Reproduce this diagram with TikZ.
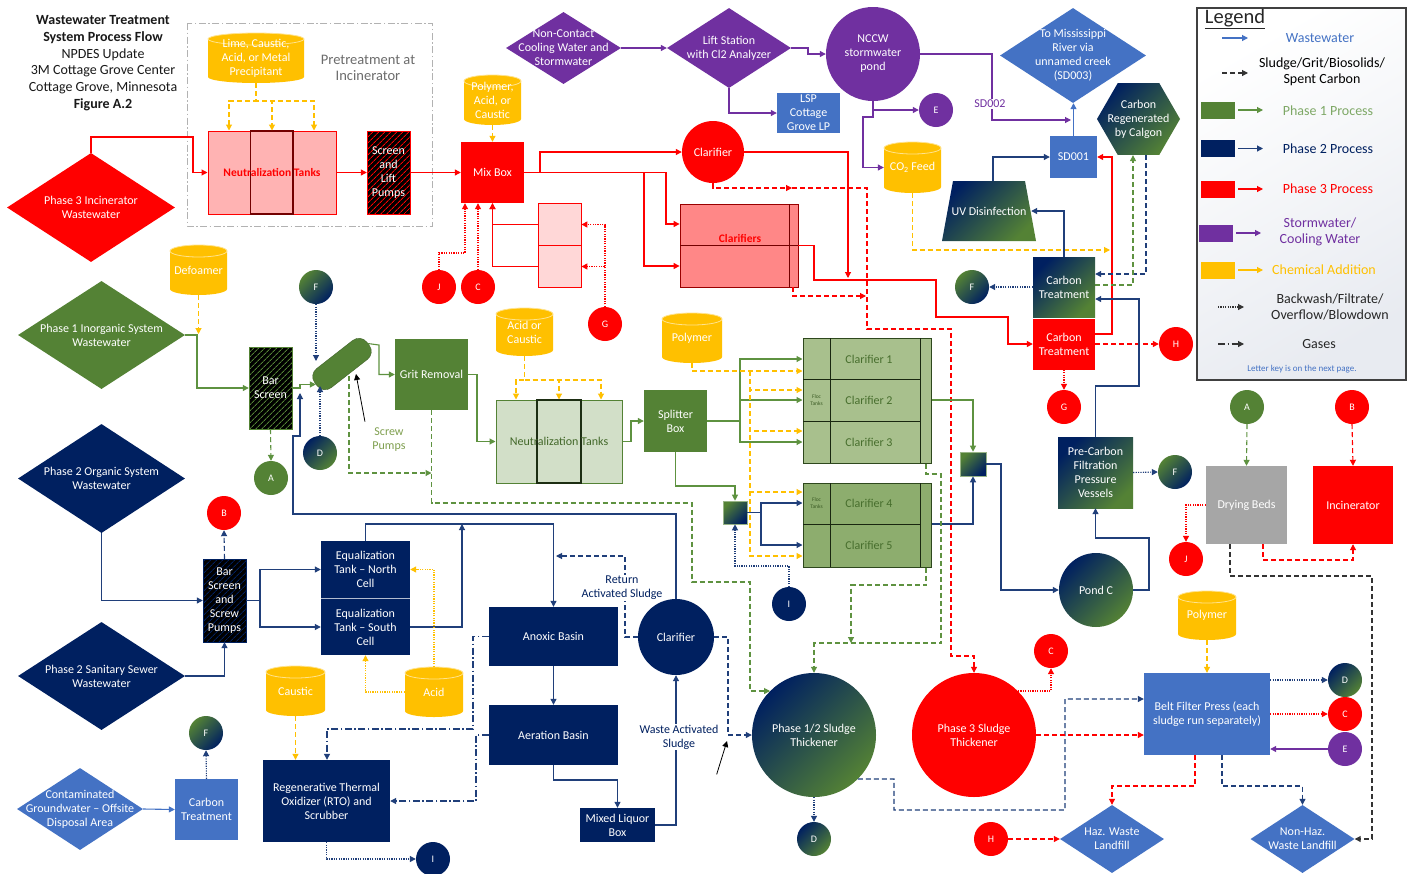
\documentclass[tikz,border=0pt]{standalone}
\usepackage{fontspec}
\setmainfont{Carlito}
\usetikzlibrary{arrows.meta,shapes.geometric,patterns.meta}
\definecolor{gr}{HTML}{548235}
\definecolor{grL}{HTML}{5E9240}
\definecolor{nv}{HTML}{002060}
\definecolor{nvL}{HTML}{203F7A}
\definecolor{rd}{HTML}{FF0000}
\definecolor{pu}{HTML}{7030A0}
\definecolor{yl}{HTML}{FFC000}
\definecolor{bl}{HTML}{4472C4}
\definecolor{gy}{HTML}{A6A6A6}
\definecolor{pkA}{HTML}{FFB3B3}
\definecolor{pkB}{HTML}{FF8787}
\definecolor{pkC}{HTML}{FFD7D7}
\definecolor{lgA}{HTML}{D2DFC8}
\definecolor{lgB}{HTML}{A8C08D}
\definecolor{lgC}{HTML}{8DAD6E}
\definecolor{olv}{HTML}{7F9F4F}
\newcommand\lblf{\fontsize{12}{14}\selectfont}
\newcommand\ltrf{\fontsize{10}{12}\selectfont}
\newcommand\legf{\fontsize{14}{16}\selectfont}
% cylinder: name, cx, cy, w, h, text
\newcommand\drum[6]{%
 \fill[yl] ({#2-#4/2},{#3-#5/2+6}) -- ({#2-#4/2},{#3+#5/2-6}) arc[start angle=180,end angle=0,x radius={#4/2},y radius=6] -- ({#2+#4/2},{#3-#5/2+6}) arc[start angle=0,end angle=-180,x radius={#4/2},y radius=6] -- cycle;
 \draw[white!55!yl, line width=0.8pt] ({#2},{#3-#5/2+6}) ellipse[x radius={#4/2}, y radius=6];
 \node[bx, minimum width=#4, minimum height=#5, txt={#6}] (#1) at (#2,#3) {};}
\begin{document}
\begin{tikzpicture}[x=1pt,y=-1pt, >={Triangle[length=6pt,width=6pt]},
 lbl/.style={font=\lblf, align=center, text=white, inner sep=0pt},
 txt/.style={label={[lbl]center:{#1}}},
 sz/.style 2 args={minimum width=#1, minimum height=#2},
 bx/.style={rectangle, inner sep=0pt},
 dia/.style={diamond, inner sep=0pt},
 ltr/.style={circle, inner sep=0pt, minimum size=34, font=\ltrf, text=white},
 gNG/.style={top color=nv, bottom color=gr, shading angle=45},
 gGN/.style={top color=gr, bottom color=nv, shading angle=45},
 hatch/.style={fill=black, postaction={pattern={Lines[angle=45,distance=4pt,line width=0.9pt]}, pattern color=#1}},
 ln/.style={line width=1.1pt},
 gline/.style={ln, draw=grL},
 nline/.style={ln, draw=nvL},
 rline/.style={ln, draw=rd},
 pline/.style={ln, draw=pu},
 yline/.style={ln, draw=yl},
 bline/.style={ln, draw=bl},
 kline/.style={ln, draw=black!80},
 dsh/.style={dash pattern=on 5pt off 3pt},
 dtt/.style={dash pattern=on 1.2pt off 1.2pt},
 ddt/.style={dash pattern=on 7pt off 2.5pt on 1.5pt off 2.5pt},
 legt/.style={font=\legf, align=center, inner sep=0pt}
]
\useasboundingbox (0,0) rectangle (1416,873);
\fill[white] (0,0) rectangle (1416,873);

% ---------- title
\node[align=center, font=\fontsize{14}{16.7}\selectfont, text=black!90, inner sep=0] (title) at (103,63) {\textbf{Wastewater Treatment}\\\textbf{System Process Flow}\\NPDES Update\\3M Cottage Grove Center\\Cottage Grove, Minnesota\\\textbf{Figure A.2}};

% ---------- pretreatment frame
\draw[gray!60, line width=0.9pt, ddt] (187,23) rectangle (432,226);
\node[align=center, font=\fontsize{14.5}{16}\selectfont, text=gray!85!black] (pretxt) at (368,68) {Pretreatment at\\Incinerator};

% ---------- phase 3 top
\drum{lime}{256}{58}{96}{50}{Lime, Caustic,\\Acid, or Metal\\Precipitant}
\node[bx, sz={128}{83}, fill=pkA, draw=rd, line width=1pt] (n3) at (272,172.5) {};
\draw[line width=1.3pt, draw=rd!45!black] (250.5,131) rectangle (293,214);
\node[font=\fontsize{11.5}{13}\selectfont\bfseries, text=rd] (n3t) at (n3) {Neutralization Tanks};
\node[bx, sz={43}{83}, hatch=rd, draw=rd, txt={Screen\\and\\Lift\\Pumps}] (scr3) at (388.5,172.5) {};
\node[bx, sz={63}{61}, fill=rd, txt={Mix Box}] (mix) at (492.5,172.5) {};
\drum{poly1}{492.5}{100}{57}{50}{Polymer,\\Acid, or\\Caustic}
\node[dia, sz={168}{109}, fill=rd, txt={Phase 3 Incinerator\\Wastewater}] (inc3) at (91,207.5) {};
\node[ltr, minimum size=62, fill=rd, txt={Clarifier}] (clar3) at (713,152) {};
\node[bx, sz={118}{83}, fill=pkB, draw=rd!60!black, line width=0.8pt] (cls) at (739,245.5) {};
\draw[rd!45!black, line width=1pt] (680,245.5) -- (798,245.5) (789,204) -- (789,287);
\node[font=\fontsize{11.5}{13}\selectfont\bfseries, text=rd] (clst) at (740,238) {Clarifiers};
\node[bx, sz={43}{42}, fill=pkC, draw=rd, line width=0.8pt] (pk1) at (559.5,224.5) {};
\node[bx, sz={43}{42}, fill=pkC, draw=rd, line width=0.8pt] (pk2) at (559.5,266.5) {};
\node[ltr, fill=rd] (j1) at (439,287) {J};
\node[ltr, fill=rd] (c1) at (478,287) {C};
\node[ltr, fill=rd] (g1) at (605,324) {G};

% ---------- stormwater
\node[dia, sz={115}{72}, fill=pu, txt={Non-Contact\\Cooling Water and\\Stormwater}] (ncw) at (563.5,48) {};
\node[dia, sz={124}{80}, fill=pu, txt={Lift Station\\with Cl2 Analyzer}] (lift) at (729,48) {};
\node[ltr, minimum size=94, fill=pu, txt={NCCW\\stormwater\\pond}] (nccw) at (873,54) {};
\node[bx, sz={63}{40}, fill=bl, txt={LSP\\Cottage\\Grove LP}] (lsp) at (808.5,113) {};
\node[ltr, fill=pu] (e1) at (936,110) {E};
\drum{co2}{912.5}{167.5}{57}{51}{CO\textsubscript{2} Feed}
\node[dia, sz={146}{95}, fill=bl, txt={To Mississippi\\River via\\unnamed creek\\(SD003)}] (miss) at (1073,55.5) {};
\node[bx, sz={47}{42}, fill=bl, txt={SD001}] (sd1) at (1073.5,157) {};
\node[regular polygon, regular polygon sides=6, minimum size=83, inner sep=0, gNG, txt={Carbon\\Regenerated\\by Calgon}] (hex) at (1138.5,119) {};
\shade[gNG] (942,241) -- (953,181) -- (1025,181) -- (1036,241) -- cycle;
\node[bx, sz={84}{60}, txt={UV Disinfection}] (uv) at (989,211) {};
\node[bx, sz={62}{60}, gNG, txt={Carbon\\Treatment}] (ct1) at (1064,287) {};
\node[bx, sz={62}{51}, fill=rd, txt={Carbon\\Treatment}] (ct3) at (1064,344) {};
\node[ltr, gGN] (f2) at (972,287) {F};
\node[ltr, fill=rd] (h1) at (1176,344) {H};
\node[ltr, fill=rd] (g2) at (1064,407) {G};

% ---------- legend
\node[bx, sz={209}{372}, draw=black!75, line width=1.5pt, top color=white, bottom color=nv!9, shading angle=30] (leg) at (1301.5,194) {};
\node[font=\fontsize{20.5}{22}\selectfont, text=black!85, inner sep=0] (legh) at (1235,19) {\underline{Legend}};
\coordinate (la1) at (1222,38); \coordinate (lb1) at (1248,38);
\draw[bline,->] (la1) -- (lb1);
\node[legt, text=bl] (lt1) at (1320,38) {Wastewater};
\coordinate (la2) at (1222,73); \coordinate (lb2) at (1248,73);
\draw[kline,dsh,->] (la2) -- (lb2);
\node[legt, text=black] (lt2) at (1322,72) {Sludge/Grit/Biosolids/\\Spent Carbon};
\node[bx, sz={34}{17}, fill=gr] (lr3) at (1218,110) {};
\coordinate (lb3) at (1263,110); \draw[gline,->] (lr3.east) ++(3,0) -- (lb3);
\node[legt, text=grL!80!white] (lt3) at (1328,111) {Phase 1 Process};
\node[bx, sz={34}{17}, fill=nv] (lr4) at (1218,148.5) {};
\coordinate (lb4) at (1263,148.5); \draw[nline,->] (lr4.east) ++(3,0) -- (lb4);
\node[legt, text=nv] (lt4) at (1328,149) {Phase 2 Process};
\node[bx, sz={34}{17}, fill=rd] (lr5) at (1218,189) {};
\coordinate (lb5) at (1263,189); \draw[rline,->] (lr5.east) ++(3,0) -- (lb5);
\node[legt, text=rd] (lt5) at (1328,189) {Phase 3 Process};
\node[bx, sz={34}{17}, fill=pu] (lr6) at (1216,233) {};
\coordinate (lb6) at (1261,233); \draw[pline,->] (lr6.east) ++(3,0) -- (lb6);
\node[legt, text=pu] (lt6) at (1320,232) {Stormwater/\\Cooling Water};
\node[bx, sz={34}{17}, fill=yl] (lr7) at (1218,270) {};
\coordinate (lb7) at (1263,270); \draw[yline,->] (lr7.east) ++(3,0) -- (lb7);
\node[legt, text=yl] (lt7) at (1324,270) {Chemical Addition};
\coordinate (la8) at (1218,307); \coordinate (lb8) at (1244,307);
\draw[kline,dtt,->] (la8) -- (lb8);
\node[legt, text=black!85] (lt8) at (1330,307) {Backwash/Filtrate/\\Overflow/Blowdown};
\coordinate (la9) at (1218,344); \coordinate (lb9) at (1244,344);
\draw[kline,ddt,->] (la9) -- (lb9);
\node[legt, text=black!85] (lt9) at (1319,344) {Gases};
\node[font=\fontsize{9}{10}\selectfont, text=bl, inner sep=0] (lt10) at (1302,369) {Letter key is on the next page.};

% ---------- phase 1
\node[dia, sz={167}{108}, fill=gr, txt={Phase 1 Inorganic System\\Wastewater}] (p1) at (101.5,335) {};
\drum{defo}{198.5}{270}{57}{50}{Defoamer}
\node[bx, sz={43}{82}, hatch=gr, draw=gr, txt={Bar\\Screen}] (bs1) at (270.5,388) {};
\node[ltr, gGN] (f1) at (316,287) {F};
\node[ltr, gNG] (d1) at (320,453) {D};
\node[ltr, fill=gr] (a1) at (271,478) {A};
\node[draw=gr!75!black, fill=gr, rounded corners=10pt, sz={66}{24}, rotate=38, inner sep=0] (pump) at (342,364) {};
\node[bx, sz={73}{71}, fill=gr, txt={Grit Removal}] (grit) at (431.5,374.5) {};
\drum{ac1}{524.5}{332}{57}{48}{Acid or\\Caustic}
\node[bx, sz={126}{83}, fill=lgA, draw=gr, line width=1pt] (n1) at (559,441.5) {};
\draw[line width=1.3pt, draw=gr!35!black] (537,400) rectangle (581,483);
\node[font=\lblf, text=gr!80!black] (n1t) at (n1) {Neutralization Tanks};
\node[bx, sz={63}{62}, fill=gr, txt={Splitter\\Box}] (split) at (675.5,421) {};
\drum{poly2}{692}{338}{60}{50}{Polymer}
\node[font=\lblf, text=olv, align=center] (spl) at (389,440) {Screw\\Pumps};

\node[bx, sz={128}{125}, fill=lgB, draw=gr!55!black, line width=1pt] (cg1) at (867,400.5) {};
\draw[gr!30!black, line width=1pt] (830,338) -- (830,463) (920,338) -- (920,463) (803,379.5) -- (920,379.5) (803,421.5) -- (920,421.5);
\node[font=\lblf, text=gr!85!black] (c1t) at (869,359) {Clarifier 1};
\node[font=\lblf, text=gr!85!black] (c2t) at (869,400) {Clarifier 2};
\node[font=\lblf, text=gr!85!black] (c3t) at (869,442) {Clarifier 3};
\node[font=\fontsize{5.5}{6.5}\selectfont, text=gr!70!black, align=center] (fl1) at (816.5,400) {Floc\\Tanks};
\node[bx, sz={128}{84}, fill=lgC, draw=gr!55!black, line width=1pt] (cg2) at (867,525) {};
\draw[gr!30!black, line width=1pt] (830,483) -- (830,567) (920,483) -- (920,567) (803,524.5) -- (920,524.5);
\node[font=\lblf, text=gr!85!black] (c4t) at (869,503) {Clarifier 4};
\node[font=\lblf, text=gr!85!black] (c5t) at (869,545) {Clarifier 5};
\node[font=\fontsize{5.5}{6.5}\selectfont, text=gr!70!black, align=center] (fl2) at (816.5,503) {Floc\\Tanks};
\node[bx, sz={24}{23}, gGN, draw=gr!60!white, line width=0.6pt] (sq1) at (735,512.5) {};
\node[bx, sz={26}{24}, gGN, draw=gr!60!white, line width=0.6pt] (sq2) at (973,464) {};
\node[ltr, fill=nv] (i1) at (789,604) {I};
\node[bx, sz={75}{71}, gNG, txt={Pre-Carbon\\Filtration\\Pressure\\Vessels}] (pcf) at (1095.5,472.5) {};
\node[ltr, gGN] (f3) at (1175,472) {F};
\node[ltr, minimum size=74, gNG, txt={Pond C}] (pondc) at (1096,590) {};
\node[ltr, fill=gr] (a2) at (1247,407) {A};
\node[ltr, fill=rd] (b2) at (1352,407) {B};
\node[bx, sz={81}{78}, fill=gy, txt={Drying Beds}] (dry) at (1246.5,505) {};
\node[bx, sz={80}{78}, fill=rd, txt={Incinerator}] (inc) at (1353,505) {};
\node[ltr, fill=rd] (j2) at (1186,559) {J};

% ---------- phase 2
\node[dia, sz={167}{109}, fill=nv, txt={Phase 2 Organic System\\Wastewater}] (p2o) at (101.5,478.5) {};
\node[dia, sz={167}{108}, fill=nv, txt={Phase 2 Sanitary Sewer\\Wastewater}] (p2s) at (101.5,676) {};
\node[ltr, fill=rd] (b1) at (224,513) {B};
\node[bx, sz={43}{83}, hatch=nv, draw=nv, txt={Bar\\Screen\\and\\Screw\\Pumps}] (bs2) at (224.5,600.5) {};
\node[bx, sz={89}{57}, fill=nv, txt={Equalization\\Tank -- North\\Cell}] (eqn) at (365.5,569.5) {};
\node[bx, sz={89}{56}, fill=nv, txt={Equalization\\Tank -- South\\Cell}] (eqs) at (365.5,627) {};
\draw[white!70!nv, line width=0.6pt] (321,598.5) -- (410,598.5);
\drum{acid}{434}{692}{58}{50}{Acid}
\drum{caus}{295.5}{691}{59}{50}{Caustic}
\node[bx, sz={127}{82}, fill=nv, txt={Regenerative Thermal\\Oxidizer (RTO) and\\Scrubber}] (rto) at (326.5,801) {};
\node[ltr, fill=nv] (i2) at (433,859) {I};
\node[bx, sz={129}{59}, fill=nv, txt={Anoxic Basin}] (anox) at (553.5,636.5) {};
\node[bx, sz={129}{60}, fill=nv, txt={Aeration Basin}] (aer) at (553.5,735) {};
\node[bx, sz={75}{34}, fill=nv, txt={Mixed Liquor\\Box}] (mlb) at (617.5,825) {};
\node[ltr, minimum size=76, fill=nv, txt={Clarifier}] (clar2) at (676,637) {};
\node[ltr, minimum size=124, gNG, txt={Phase 1/2 Sludge\\Thickener}] (th12) at (814,735) {};
\node[ltr, gNG] (d2) at (814,839) {D};
\node[ltr, minimum size=124, fill=rd, txt={Phase 3 Sludge\\Thickener}] (th3) at (974,735) {};
\node[ltr, fill=rd] (c3) at (1051,651) {C};
\node[ltr, fill=rd] (h3) at (991,839) {H};
\node[dia, sz={126}{82}, fill=bl, txt={Contaminated\\Groundwater -- Offsite\\Disposal Area}] (cgw) at (80,809) {};
\node[bx, sz={63}{61}, fill=bl, txt={Carbon\\Treatment}] (ctb) at (206.5,809.5) {};
\node[ltr, gGN] (f4) at (206,733) {F};
\node[bx, sz={126}{82}, fill=bl, txt={Belt Filter Press (each\\sludge run separately)}] (belt) at (1207,714) {};
\drum{poly3}{1207}{615.5}{58}{49}{Polymer}
\node[ltr, gNG] (d3) at (1345,680) {D};
\node[ltr, fill=rd] (c4) at (1345,714) {C};
\node[ltr, fill=pu] (e3) at (1345,749) {E};
\node[dia, sz={104}{68}, fill=bl, txt={Haz. Waste\\Landfill}] (haz) at (1112,839) {};
\node[dia, sz={104}{68}, fill=bl, txt={Non-Haz.\\Waste Landfill}] (nonhaz) at (1302.5,839) {};

% ================= connectors
% phase 3
\draw[yline,dsh,->] (lime.south) |- (229,101) -- (n3.north -| 229,0);
\draw[yline,dsh,->] (lime.south) |- (272,101) -- (n3.north);
\draw[yline,dsh,->] (lime.south) |- (314,101) -- (n3.north -| 314,0);
\draw[rline,->] (inc3.north) |- (193,137) |- (n3.west);
\draw[rline,->] (n3.east) -- (scr3.west);
\draw[rline,->] (scr3.east) -- (mix.west);
\draw[yline,dsh,->] (poly1.south) -- (mix.north);
\draw[rline,->] (mix.east) -- (540,172.5) |- (clar3.west);
\draw[rline,->] (mix.east) -- (644,172.5) |- (cls.west |- 0,266);
\draw[rline,->] (644,172.5) -- (666,172.5) |- (cls.west |- 0,224);
\draw[rline,->] (pk1.west) -| (mix.south);
\draw[rline,->] (pk2.west) -| (mix.south);
\draw[rline,dtt,->] (g1.north) |- (pk1.east);
\draw[rline,dtt,->] (g1.north) |- (pk2.east);
\draw[rline,dtt,->] (j1.north) |- (465,253) -- (mix.south -| 465,0);
\draw[rline,dtt,->] (c1.north) -- (mix.south -| c1.north);
\draw[rline,->] (clar3.east) -| (848,278);
\draw[rline,->] (cls.east) -| (814,280) -- (936,280) |- (1008,317) |- (ct3.west);
\draw[rline,dsh,->] (clar3.south) |- (792,188);
\draw[rline,dsh,->] (792,188) -- (867,188) -- (867,329) -- (951,329) -- (951,656) -| (th3.north);
\draw[rline,dsh,->] (cls.south -| 793,0) |- (866,296);
\draw[rline,->] (ct3.east |- 0,334) -| (1112,157) -- (sd1.east);
\draw[rline,dsh,->] (ct3.east) -- (h1.west);
\draw[rline,dtt,->] (ct3.south) -- (g2.north);

% stormwater
\draw[pline,->] (ncw.east) -- (lift.west);
\draw[pline,->] (lift.east) -- (808,48) |- (nccw.west);
\draw[pline,->] (lift.south) |- (lsp.west);
\draw[pline,->] (nccw.south) |- (e1.west);
\draw[pline,->] (nccw.south) |- (863,117) |- (co2.west);
\draw[pline,->] (nccw.east) -| (992,120) -- (1071,120);
\draw[yline,dsh,->] (co2.south) |- (1110,250);
\draw[bline,->] (sd1.north) -- (miss.south -| sd1.north);
\draw[nline,->] (uv.north -| 993,0) |- (sd1.west);
\draw[nline,->] (ct1.north) |- (uv.east);
\draw[nline,dsh,->] (hex.south -| 1146,0) |- (ct1.east |- 0,274);
\draw[grL,ln,dsh,->] (ct1.east |- 0,285) -| (hex.south -| 1133,0);
\draw[nline,dtt,->] (ct1.west) -- (f2.east);

% phase 1
\draw[yline,dsh,->] (defo.south) -- (198.5,334);
\draw[gline,->] (p1.east) -| (197,388) -- (bs1.west);
\draw[gline,->] (bs1.east) -- (300,388) |- (pump.west);
\draw[gline,->] (pump.east) -- (379,345) |- (grit.west);
\draw[nline,dtt,->] (f1.south) -- (316,361);
\draw[nline,dtt,->] (d1.north) -- (320,386);
\draw[gline,dsh,->] (bs1.south) -- (a1.north);
\draw[black,line width=0.8pt,->] (spl.north west) ++(-4,-3) -- (356,374);
\draw[gline,dsh,->] (349,376) |- (grit.south |- 0,473);
\draw[gline,dsh,->] (grit.south) |- (692,503) -- (692,582) -- (750,582) |- (th12.135);
\draw[yline,dsh,->] (ac1.south) |- (516,380) -- (n1.north -| 516,0);
\draw[yline,dsh,->] (ac1.south) |- (559,380) -- (n1.north);
\draw[yline,dsh,->] (ac1.south) |- (601,380) -- (n1.north -| 601,0);
\draw[gline,->] (grit.east) -- (477,374.5) |- (n1.west);
\draw[gline,->] (n1.east) -- (631,441.5) |- (split.west);
\draw[gline,->] (split.east) -- (740,421) |- (cg1.west |- 0,359);
\draw[gline,->] (740,421) |- (cg1.west |- 0,400);
\draw[gline,->] (740,421) |- (cg1.west |- 0,442);
\draw[yline,dsh,->] (poly2.south) |- (cg1.west |- 0,371);
\draw[yline,dsh,->] (750,371) |- (cg1.west |- 0,390);
\draw[yline,dsh,->] (750,371) |- (cg1.west |- 0,431);
\draw[yline,dsh,->] (750,371) |- (cg2.west |- 0,492);
\draw[yline,dsh,->] (750,371) |- (cg2.west |- 0,556);
\draw[gline,->] (split.south) |- (735,486) -- (sq1.north);
\draw[nline,->] (sq1.east) -- (761,512.5) |- (cg2.west |- 0,503);
\draw[nline,->] (761,512.5) |- (cg2.west |- 0,545);
\draw[nline,dtt,->] (i1.north) |- (735,566) -- (sq1.south);
\draw[gline,->] (cg1.east |- 0,400) -| (sq2.north);
\draw[nline,->] (cg2.east |- 0,524) -| (sq2.south);
\draw[nline,->] (sq2.east) -| (1001,590) -- (pondc.west);
\draw[gline,dsh,->] (cg1.south -| 926,0) |- (941,474) -- (941,643) -| (th12.north);
\draw[gline,dsh,->] (cg2.south -| 926,0) |- (851,585) -- (851,643);
\draw[nline,->] (pondc.east) -| (1149,538) -| (pcf.south);
\draw[nline,->] (pcf.north) |- (1139,386) |- (ct1.east |- 0,299);
\draw[nline,dtt,->] (pcf.east) -- (f3.west);
\draw[gline,dsh,->] (a2.south) -- (dry.north);
\draw[rline,dsh,->] (b2.south) -- (inc.north);
\draw[rline,dtt,->] (dry.west) -| (j2.north);
\draw[rline,dsh,->] (dry.south -| 1263,0) |- (1353,560) -- (inc.south);
\draw[kline,dsh,->] (dry.south -| 1230,0) |- (1372,576) |- (nonhaz.east);

% phase 2
\draw[nline,->] (p2o.south) |- (bs2.west);
\draw[nline,->] (p2s.east) -| (bs2.south);
\draw[nline,dsh,->] (bs2.north) -- (b1.south);
\draw[nline,->] (bs2.east) -- (260,600.5) |- (eqn.west);
\draw[nline,->] (260,600.5) |- (eqs.west);
\draw[nline,->] (eqn.north) |- (553.5,524) -- (anox.north);
\draw[nline,->] (eqs.east) -| (462,524);
\draw[yline,dtt,->] (acid.north) |- (eqn.east);
\draw[yline,dtt,->] (acid.west) -| (eqs.south);
\draw[yline,dsh,->] (caus.south) -- (rto.north -| caus.south);
\draw[nline,ddt,->] (anox.west) -| (473,729) -| (rto.north -| 327,0);
\draw[nline,ddt,->] (aer.west) -| (476,801) -- (rto.east);
\draw[nline,dtt,->] (rto.south) |- (i2.west);
\draw[nline,->] (anox.south) -- (aer.north);
\draw[nline,->] (aer.south) |- (617.5,780) -- (mlb.north);
\draw[nline,->] (mlb.east) -| (clar2.south);
\draw[nline,->] (clar2.north) |- (293,514) |- (300,436) -- (300,393);
\draw[nline,dsh,->] (clar2.west) -| (625,556) -- (556,556);
\draw[nline,dsh,->] (clar2.east) -| (728,735) -- (th12.west);
\draw[nline,dtt,->] (th12.south) -- (d2.north);
\draw[nline,dsh,->] (th12.-45) -- (894,779) -- (894,810) -- (1065,810) |- (belt.west |- 0,699);
\draw[rline,dsh,->] (th3.east) -- (belt.west |- th3.east);
\draw[rline,dtt,->] (th3.45) -| (c3.south);
\draw[rline,dsh,->] (h3.east) -- (haz.west);
\draw[bline,->] (cgw.east) -- (ctb.west);
\draw[nline,dtt,->] (ctb.north) -- (f4.south);
\draw[yline,dsh,->] (poly3.south) -- (belt.north);
\draw[nline,dtt,->] (belt.east |- d3.west) -- (d3.west);
\draw[rline,dtt,->] (belt.east) -- (c4.west);
\draw[pline,->] (e3.west) -- (belt.east |- e3.west);
\draw[rline,dsh,->] (belt.south -| 1195,0) |- (1112,786) -- (haz.north);
\draw[nline,dsh,->] (belt.south -| 1222,0) |- (1302.5,786) -- (nonhaz.north);

% labels over lines
\node[font=\lblf, text=pu, fill=white, inner sep=1pt] (sd2) at (990,104) {SD002};
\node[font=\lblf, text=nv, align=center, fill=white, inner sep=1pt] (ras) at (622,588) {Return\\Activated Sludge};
\node[font=\lblf, text=nv, align=center, fill=white, inner sep=1pt] (was) at (679,737) {Waste Activated\\Sludge};
\draw[black,line width=0.8pt,->] (was.south east) ++(-3,24) -- (727,741);
\end{tikzpicture}
\end{document}
